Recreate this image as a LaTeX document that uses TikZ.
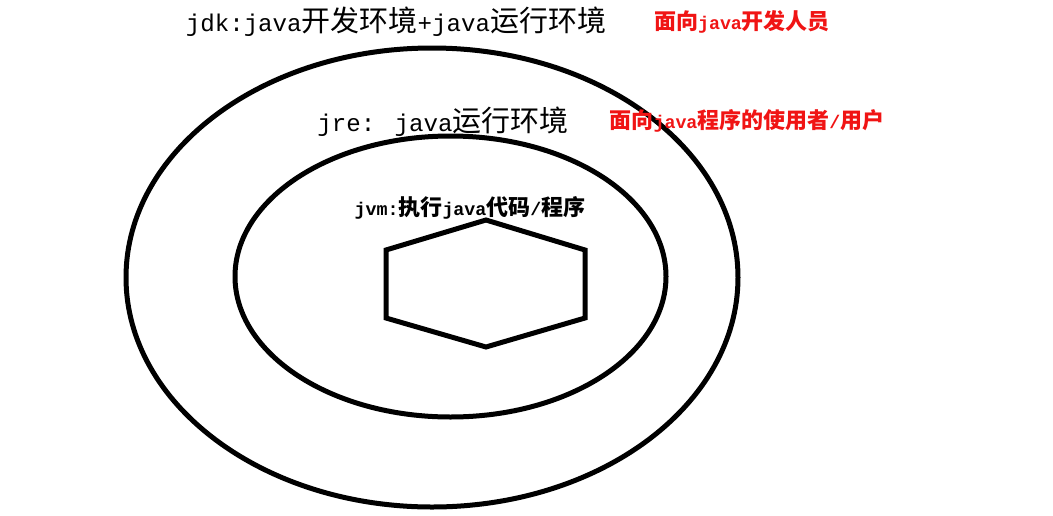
\documentclass[tikz,border=0pt]{standalone}
\usepackage{fontspec}
\setmainfont{Liberation Mono}[Scale=0.833]
\newfontfamily\cjk{Noto Sans CJK SC}
\usepackage{xcolor}
\usetikzlibrary{shapes.geometric}
\definecolor{labred}{RGB}{240,20,20}

\begin{document}
\begin{tikzpicture}[x=1pt,y=-1pt]
				\useasboundingbox (0,0) rectangle (1053,515);
				% jdk et jre
				\node[draw, ellipse, line width=5pt, minimum width=612pt, minimum height=459pt, inner sep=0pt] (jdk) at (432,277.5) {};
				\node[draw, ellipse, line width=5pt, minimum width=431pt, minimum height=281pt, inner sep=0pt] (jre) at (450.5,276.5) {};
				
				% jvm
				\draw[line width=5pt, line join=miter] (486,220) -- (585,250) -- (585,318) -- (486,347) -- (386,318) -- (386,250) -- cycle;
				
				% textes
				\node[font=\fontsize{29}{32}\selectfont] (jdktext) at (396,22) {jdk:java{\cjk 开发环境}+java{\cjk 运行环境}};
				\node[font=\fontsize{29}{32}\selectfont] (jretext) at (443,122) {jre: java{\cjk 运行环境}};
				\node[font=\fontsize{22}{26}\selectfont\bfseries] (jvmtext) at (470,208) {jvm:{\cjk 执行}java{\cjk 代码}/{\cjk 程序}};
				\node[font=\fontsize{22}{26}\selectfont\bfseries, text=labred] (devtext) at (742,22) {{\cjk 面向}java{\cjk 开发人员}};
				\node[font=\fontsize{22}{26}\selectfont\bfseries, text=labred] (usertext) at (747,121) {{\cjk 面向}java{\cjk 程序的使用者}/{\cjk 用户}};
			\end{tikzpicture}
\end{document}
